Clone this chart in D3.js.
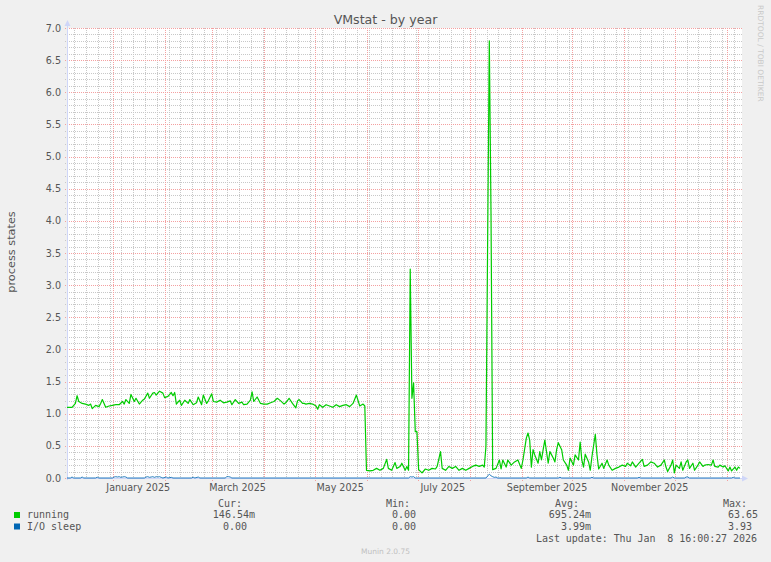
<!DOCTYPE html>
<html><head><meta charset="utf-8">
<script src="https://cdn.jsdelivr.net/npm/d3@7/dist/d3.min.js"></script>
<style>
html,body{margin:0;padding:0;background:#f0f0f0;}
svg{display:block;}
</style></head><body>
<svg id="chart" width="771" height="562"></svg>
<script>
// ---------- data ----------
const chartTitle = "VMstat - by year";
const yAxisLabel = "process states";
const watermark = "RRDTOOL / TOBI OETIKER";
const footer = "Munin 2.0.75";
const endTime = "2026-01-08T16:00:27Z";
const spanDays = 400;
const yMax = 7.0;
const yLabelTicks = [0.0,0.5,1.0,1.5,2.0,2.5,3.0,3.5,4.0,4.5,5.0,5.5,6.0,6.5,7.0];
const labelMonths = ["2025-01-01","2025-03-01","2025-05-01","2025-07-01","2025-09-01","2025-11-01"];

// [day offset from start of the 400-day window, value]
const running = [
[0,1.10],[3,1.10],[5,1.16],[6,1.28],[7,1.19],[9,1.16],[11,1.15],[13,1.13],[14,1.15],[15,1.08],
[17,1.13],[19,1.11],[20,1.16],[21,1.22],[23,1.10],[25,1.12],[27,1.13],[29,1.14],[31,1.14],[33,1.19],
[34,1.15],[35,1.22],[37,1.16],[38,1.30],[40,1.19],[41,1.24],[43,1.15],[45,1.21],[46,1.23],[48,1.32],
[49,1.24],[51,1.32],[52,1.33],[53,1.29],[55,1.35],[57,1.32],[58,1.25],[60,1.27],[62,1.33],[63,1.28],
[64,1.33],[65,1.15],[67,1.21],[68,1.13],[70,1.21],[72,1.16],[73,1.22],[75,1.14],[77,1.17],[78,1.26],
[80,1.14],[81,1.29],[83,1.16],[84,1.20],[86,1.31],[87,1.19],[89,1.18],[91,1.21],[93,1.17],[95,1.18],
[97,1.20],[98,1.14],[100,1.22],[102,1.16],[104,1.18],[105,1.14],[107,1.15],[109,1.21],[110,1.34],[111,1.19],
[113,1.26],[115,1.16],[117,1.15],[119,1.15],[121,1.17],[123,1.19],[125,1.24],[127,1.20],[129,1.15],[130,1.17],
[132,1.24],[134,1.16],[136,1.09],[137,1.20],[138,1.22],[140,1.16],[141,1.16],[142,1.15],[144,1.16],[146,1.15],
[148,1.12],[149,1.07],[150,1.14],[152,1.10],[154,1.14],[156,1.12],[158,1.10],[160,1.14],[162,1.11],[164,1.13],
[166,1.14],[168,1.11],[170,1.16],[172,1.29],[174,1.12],[176,1.15],[177,1.12],
[178,0.12],[180,0.11],[182,0.12],[184,0.15],[186,0.12],[188,0.15],[190,0.29],[191,0.15],[193,0.12],[195,0.24],
[196,0.15],[198,0.18],[199,0.23],[201,0.12],[202,0.18],[203,0.12],[204,3.25],[205,1.24],[206,1.48],[207,0.72],
[208,0.72],[209,0.13],[211,0.08],[213,0.14],[215,0.12],[217,0.15],[219,0.14],[220,0.18],[222,0.41],[223,0.15],
[225,0.12],[227,0.18],[229,0.15],[231,0.18],[233,0.12],[235,0.15],[237,0.12],[239,0.15],[241,0.18],[243,0.20],
[245,0.18],[247,0.20],[248,0.17],[249,0.49],[251,6.80],[252,4.15],[253,0.13],
[255,0.15],[257,0.28],[258,0.14],[259,0.28],[261,0.17],[262,0.28],[264,0.20],[266,0.25],[268,0.28],[270,0.15],
[271,0.28],[273,0.62],[274,0.70],[275,0.59],[276,0.17],[277,0.44],[278,0.36],[280,0.23],[281,0.41],[282,0.28],
[283,0.44],[284,0.59],[286,0.23],[287,0.41],[289,0.31],[290,0.25],[291,0.44],[292,0.55],[294,0.44],[295,0.28],
[297,0.20],[298,0.12],[299,0.31],[301,0.20],[302,0.36],[304,0.28],[305,0.56],[306,0.28],[307,0.17],[308,0.37],
[310,0.25],[311,0.12],[312,0.33],[314,0.68],[315,0.36],[316,0.14],[318,0.23],[319,0.15],[321,0.28],[322,0.20],
[324,0.12],[326,0.15],[328,0.17],[330,0.20],[332,0.18],[333,0.23],[335,0.19],[336,0.25],[338,0.17],[340,0.23],
[342,0.29],[343,0.18],[345,0.20],[347,0.25],[349,0.23],[351,0.17],[353,0.20],[355,0.28],[356,0.17],[357,0.10],
[359,0.20],[360,0.28],[361,0.08],[362,0.20],[364,0.15],[365,0.25],[366,0.12],[368,0.25],[369,0.28],[370,0.15],
[372,0.23],[373,0.12],[375,0.20],[376,0.25],[378,0.18],[379,0.20],[381,0.21],[383,0.20],[384,0.28],[385,0.18],
[387,0.17],[388,0.20],[390,0.17],[391,0.19],[393,0.11],[394,0.17],[395,0.11],[397,0.17],[398,0.12],[399,0.17],
[400,0.15]
];
const ioSleep = [
[0,0],[2,0],[3,0.015],[4,0],[8,0],[9,0.015],[10,0],[17,0],[18,0.012],[19,0],[27,0],[28,0.015],[29,0.02],
[30,0.015],[31,0.02],[32,0.01],[33,0.015],[34,0.02],[35,0.015],[36,0],[46,0],[47,0.015],[48,0.02],[49,0.01],
[50,0.015],[51,0.02],[52,0.01],[53,0.02],[54,0.015],[55,0.02],[56,0.01],[57,0],[59,0.015],[60,0],[62,0.01],
[63,0],[74,0],[75,0.012],[76,0],[78,0.015],[79,0],[94,0],[95,0.02],[96,0.02],[97,0.015],[98,0],[203,0],
[204,0.02],[205,0.015],[206,0.02],[207,0],[249,0],[250,0.03],[251,0.06],[252,0.035],[253,0.02],[254,0.01],
[255,0.015],[256,0],[273,0],[274,0.015],[275,0],[292,0],[293,0.012],[294,0],[311,0],[312,0.01],[313,0],
[339,0],[340,0.01],[341,0],[359,0],[360,0.015],[361,0],[367,0],[368,0.015],[369,0.015],[370,0],[395,0],
[396,0.01],[397,0],[400,0]
];
const seriesNames = ["running","I/O sleep"];
const seriesColors = ["#00cc00","#0066b3"];
const statHeaders = ["Cur:","Min:","Avg:","Max:"];
const runningStats = ["146.54m","0.00","695.24m","63.65"];
const ioSleepStats = ["0.00","0.00","3.99m","3.93"];
const lastUpdate = "Last update: Thu Jan  8 16:00:27 2026";

// ---------- layout ----------
const svg = d3.select("#chart");
const L = 67, R = 740, T = 28, B = 478, GR = 742;
const sans = "'DejaVu Sans', sans-serif";
const mono = "'DejaVu Sans Mono', monospace";
const fontCol = "#555";

const end = new Date(endTime);
const start = d3.utcDay.offset(end, -spanDays);
const x = d3.scaleUtc().domain([start, end]).range([L, R]);
const y = d3.scaleLinear().domain([0, yMax]).range([B, T]);
const dayDate = d => new Date(start.getTime() + d * 86400000);

svg.append("rect").attr("width", 771).attr("height", 562).attr("fill", "#f0f0f0");
svg.append("rect").attr("x", L).attr("y", T).attr("width", GR - L).attr("height", B - T).attr("fill", "#ffffff");

const grid = svg.append("g");
const minorCol = "#c8c8c8", majorCol = "#f4a0a0";
function hline(v, col) {
  const yy = Math.round(y(v)) + 0.5;
  grid.append("line").attr("x1", L - 2).attr("x2", GR).attr("y1", yy).attr("y2", yy)
    .attr("stroke", col).attr("stroke-width", 1).attr("stroke-dasharray", "1 1");
}
function vline(d, col, ext) {
  const xx = Math.round(x(d)) + 0.5;
  grid.append("line").attr("x1", xx).attr("x2", xx).attr("y1", T).attr("y2", B + ext)
    .attr("stroke", col).attr("stroke-width", 1).attr("stroke-dasharray", "1 1");
}
// minor grid
d3.range(0, Math.round(yMax * 10) + 1).filter(i => i % 5 !== 0).forEach(i => hline(i / 10, minorCol));
const months = d3.utcMonth.range(d3.utcMonth.ceil(start), end);
const monthKeys = new Set(months.map(m => Math.round(x(m))));
d3.utcMonday.range(start, end).filter(d => !monthKeys.has(Math.round(x(d)))).forEach(d => vline(d, minorCol, 2));
// major grid
yLabelTicks.forEach(v => hline(v, majorCol));
months.forEach(d => vline(d, majorCol, 3));

// y tick labels
svg.append("g").selectAll("text").data(yLabelTicks).join("text")
  .attr("x", 61).attr("y", d => y(d) + 3.5).attr("text-anchor", "end")
  .attr("font-family", sans).attr("font-size", 9.6).attr("fill", fontCol)
  .text(d => d.toFixed(1));

// x labels
const fmt = d3.utcFormat("%B %Y");
svg.append("g").selectAll("text").data(labelMonths).join("text")
  .attr("x", d => x(d3.utcDay.offset(new Date(d + "T00:00:00Z"), 15)))
  .attr("y", 491).attr("text-anchor", "middle")
  .attr("font-family", sans).attr("font-size", 9.6).attr("fill", fontCol)
  .text(d => fmt(new Date(d + "T00:00:00Z")));

// axes
const axisCol = "#cfd6f8";
svg.append("line").attr("x1", L - 0.5).attr("x2", 743).attr("y1", B + 0.5).attr("y2", B + 0.5).attr("stroke", axisCol);
svg.append("line").attr("x1", L + 0.5).attr("x2", L + 0.5).attr("y1", B + 2).attr("y2", 24).attr("stroke", axisCol);
svg.append("path").attr("d", `M${L - 2.5},26 L${L + 3.5},26 L${L + 0.5},20 Z`).attr("fill", axisCol);
svg.append("path").attr("d", `M742,475.5 L742,481.5 L748,478.5 Z`).attr("fill", axisCol);

// series
const line = d3.line().x(d => x(dayDate(d[0]))).y(d => y(d[1]));
svg.append("path").datum(ioSleep).attr("d", line).attr("fill", "none")
  .attr("stroke", seriesColors[1]).attr("stroke-width", 1).attr("stroke-opacity", 0.85);
svg.append("path").datum(running).attr("d", line).attr("fill", "none")
  .attr("stroke", seriesColors[0]).attr("stroke-width", 1.2).attr("stroke-linejoin", "round");

// title
svg.append("text").attr("x", 385.5).attr("y", 23.5).attr("text-anchor", "middle")
  .attr("font-family", sans).attr("font-size", 12.6).attr("fill", fontCol).text(chartTitle);
// y axis title
svg.append("text").attr("transform", "translate(15,252) rotate(-90)").attr("text-anchor", "middle")
  .attr("font-family", sans).attr("font-size", 11.3).attr("fill", fontCol).text(yAxisLabel);
// watermark
svg.append("text").attr("transform", "translate(758,5) rotate(90)").attr("text-anchor", "start")
  .attr("font-family", sans).attr("font-size", 7.5).attr("fill", "#c8c8c8").text(watermark);

// legend
const lg = svg.append("g").attr("font-family", mono).attr("font-size", 10).attr("fill", fontCol);
const hdrX = [218, 386, 555, 723];
statHeaders.forEach((h, i) => lg.append("text").attr("x", hdrX[i]).attr("y", 507).text(h));
const rows = [runningStats, ioSleepStats];
const rowY = [518, 529.5];
const statEnd = [[255, 416, 591, 758], [247, 416, 591, 752]];
seriesNames.forEach((n, r) => {
  svg.append("rect").attr("x", 14).attr("y", rowY[r] - 6).attr("width", 6).attr("height", 6).attr("fill", seriesColors[r]);
  lg.append("text").attr("x", 27).attr("y", rowY[r]).text(n);
  rows[r].forEach((s, i) => lg.append("text").attr("x", statEnd[r][i]).attr("y", rowY[r]).attr("text-anchor", "end").text(s));
});
lg.append("text").attr("x", 536).attr("y", 542).attr("text-anchor", "start")
  .attr("xml:space", "preserve").style("white-space", "pre").attr("textLength", 221).text(lastUpdate);
svg.append("text").attr("x", 385.5).attr("y", 554).attr("text-anchor", "middle")
  .attr("font-family", sans).attr("font-size", 7.5).attr("fill", "#c0c0c0").text(footer);
</script>
</body></html>
